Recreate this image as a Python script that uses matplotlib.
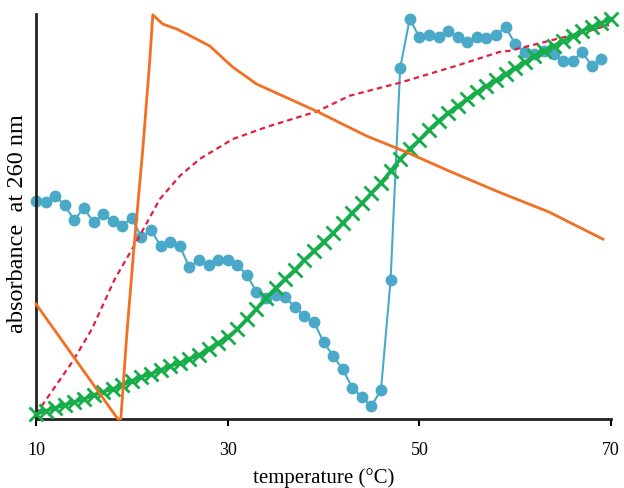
import numpy as np
import matplotlib
matplotlib.use("Agg")
import matplotlib.pyplot as plt

# melting curves, absorbance at 260 nm vs temperature
temp_blue = list(range(10, 70))
abs_blue = [0.538, 0.536, 0.551, 0.528, 0.491, 0.521, 0.486, 0.506, 0.489, 0.477,
            0.496, 0.449, 0.467, 0.427, 0.437, 0.427, 0.375, 0.393, 0.380, 0.393,
            0.393, 0.380, 0.356, 0.314, 0.299, 0.306, 0.301, 0.277, 0.254, 0.240,
            0.190, 0.156, 0.123, 0.077, 0.054, 0.032, 0.072, 0.343, 0.867, 0.988,
            0.943, 0.948, 0.943, 0.958, 0.943, 0.931, 0.943, 0.941, 0.948, 0.968,
            0.926, 0.906, 0.901, 0.909, 0.901, 0.884, 0.884, 0.906, 0.872, 0.889]

temp_green = list(range(10, 71))
abs_green = [0.012, 0.020, 0.027, 0.035, 0.042, 0.049, 0.059, 0.067, 0.074, 0.084,
             0.094, 0.104, 0.111, 0.121, 0.131, 0.138, 0.148, 0.158, 0.173, 0.188,
             0.202, 0.222, 0.247, 0.272, 0.299, 0.323, 0.346, 0.368, 0.393, 0.415,
             0.437, 0.459, 0.484, 0.509, 0.533, 0.558, 0.583, 0.612, 0.642, 0.667,
             0.689, 0.714, 0.736, 0.756, 0.773, 0.790, 0.807, 0.822, 0.837, 0.852,
             0.867, 0.881, 0.896, 0.909, 0.921, 0.933, 0.946, 0.958, 0.968, 0.978,
             0.988]

temp_red = [10.0, 13.85, 15.83, 18.23, 20.63, 22.92, 25.0, 27.08, 30.52, 34.06,
            39.38, 42.71, 47.92, 53.85, 58.33, 59.38, 64.27, 67.71, 69.8]
abs_red = [0.012, 0.143, 0.222, 0.346, 0.444, 0.543, 0.600, 0.642, 0.691, 0.721,
           0.760, 0.798, 0.830, 0.872, 0.906, 0.909, 0.938, 0.958, 0.973]

temp_orange = [10.0, 18.54, 18.85, 19.48, 20.21, 21.15, 21.88, 22.19, 23.23, 24.69,
               26.35, 28.13, 30.52, 33.02, 35.73, 39.27, 44.48, 48.65, 53.13, 58.33,
               63.54, 69.17]
abs_orange = [0.284, 0.0, 0.0, 0.210, 0.420, 0.667, 0.889, 0.998, 0.975, 0.963,
              0.943, 0.921, 0.869, 0.827, 0.798, 0.760, 0.699, 0.659, 0.612, 0.560,
              0.511, 0.444]

xticks = [10, 30, 50, 70]

plt.rcParams['font.family'] = ['Liberation Serif', 'DejaVu Serif']

fig = plt.figure(figsize=(6.24, 4.89), dpi=100)
ax = fig.add_axes([36/624, 69/489, 575/624, 405/489])

ax.plot(temp_blue, abs_blue, color='#4aa9c9', lw=1.5, marker='o', ms=7.5,
        mec='#4aa9c9', mfc='#4aa9c9', zorder=2, clip_on=False)
ax.plot(temp_red, abs_red, color='#e2203c', lw=1.6, ls=(0, (2.5, 1.8)),
        zorder=2.5, clip_on=False)
ax.plot(temp_green, abs_green, color='#17ad4a', lw=2.5, marker='x', ms=10,
        mew=2, zorder=3, clip_on=False)
ax.plot(temp_orange, abs_orange, color='#f36f21', lw=2, zorder=4, clip_on=False)

ax.set_xlim(10, 70)
ax.set_ylim(0, 1)
ax.set_xticks(xticks)
ax.set_yticks([])
ax.tick_params(axis='x', direction='out', length=5, width=1.5, pad=11,
               labelsize=13, color='black')
for side in ['top', 'right']:
    ax.spines[side].set_visible(False)
for side in ['left', 'bottom']:
    ax.spines[side].set_linewidth(2)
    ax.spines[side].set_color('#222222')

ax.set_xlabel('temperature (°C)', fontsize=15, labelpad=6.5)
ax.set_ylabel('absorbance  at 260 nm', fontsize=17.5)
ax.yaxis.set_label_coords(-8/575, 196/405)

fig.savefig('out.png', dpi=100)
